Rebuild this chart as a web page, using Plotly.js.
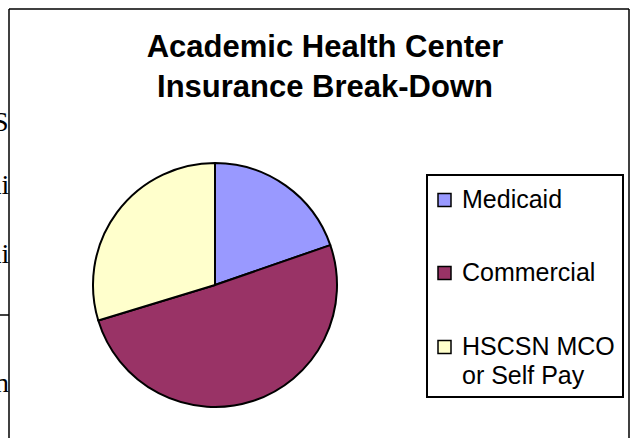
<!DOCTYPE html>
<html><head><meta charset="utf-8">
<script src="https://cdn.plot.ly/plotly-3.0.1.min.js"></script>
<style>html,body{margin:0;padding:0;background:#fff}#chart{width:631px;height:438px}</style>
</head><body><div id="chart"></div>
<script>
const W = 631, H = 438;
const categories = ['Medicaid', 'Commercial', 'HSCSN MCO or Self Pay'];
const legendLines = [['Medicaid'], ['Commercial'], ['HSCSN MCO', 'or Self Pay']];
const shares = [19.7, 50.6, 29.7];
const colors = ['#9999FF', '#993366', '#FFFFCC'];
const titleText = 'Academic Health Center<br>Insurance Break-Down';
const sideFragments = ['S', 'ai', 'ai', 'n'];

const px = x => x / W, py = y => 1 - y / H;

const trace = {
  type: 'pie', labels: categories, values: shares, sort: false,
  direction: 'clockwise', rotation: 0,
  marker: {colors: colors, line: {color: '#000000', width: 2}},
  textinfo: 'none', hoverinfo: 'label+percent', showlegend: false,
  domain: {x: [px(93), px(337)], y: [py(407), py(163)]}
};

const shapes = [
  {type: 'line', x0: px(9), x1: px(629), y0: py(9), y1: py(9)},
  {type: 'line', x0: px(9), x1: px(9), y0: py(9), y1: py(440)},
  {type: 'line', x0: px(629), x1: px(629), y0: py(9), y1: py(440)},
  {type: 'line', x0: px(0), x1: px(9), y0: py(315), y1: py(315)},
].map(s => Object.assign(s, {xref: 'paper', yref: 'paper', line: {color: '#000', width: 1.5}}));

shapes.push({type: 'rect', xref: 'paper', yref: 'paper', x0: px(427), x1: px(623), y0: py(397), y1: py(175),
  line: {color: '#000', width: 2}, fillcolor: 'rgba(0,0,0,0)'});

const itemCenters = [200, 273, 347];
const annotations = [];
categories.forEach((c, i) => {
  const cy = itemCenters[i];
  shapes.push({type: 'rect', xref: 'paper', yref: 'paper', x0: px(438), x1: px(451), y0: py(cy + 6.5), y1: py(cy - 6.5),
    fillcolor: colors[i], line: {color: '#000', width: 1.5}});
  legendLines[i].forEach((t, j) => {
    annotations.push({xref: 'paper', yref: 'paper', x: px(461), y: py(cy - 16 + j * 28.5),
      xanchor: 'left', yanchor: 'top', showarrow: false, text: t, borderpad: 0,
      font: {family: 'Liberation Sans, Arial, sans-serif', size: 25, color: '#000'}});
  });
});

const fragTops = [105, 168, 237, 366];
sideFragments.forEach((t, i) => {
  annotations.push({xref: 'paper', yref: 'paper', x: px(10), y: py(fragTops[i]), xanchor: 'right', yanchor: 'top',
    showarrow: false, text: t, borderpad: 0,
    font: {family: 'Liberation Serif, Times New Roman, serif', size: 28, color: '#000'}});
});

const layout = {
  width: W, height: H, margin: {l: 0, r: 0, t: 0, b: 0},
  paper_bgcolor: '#ffffff', plot_bgcolor: '#ffffff',
  title: {text: titleText, x: px(325), xanchor: 'center', xref: 'paper', y: py(57), yref: 'paper', yanchor: 'top',
    font: {family: 'Liberation Sans, Arial, sans-serif', size: 31, color: '#000', weight: 'bold'}},
  shapes: shapes, annotations: annotations, showlegend: false
};

Plotly.newPlot('chart', [trace], layout, {displayModeBar: false, staticPlot: true});
</script></body></html>
